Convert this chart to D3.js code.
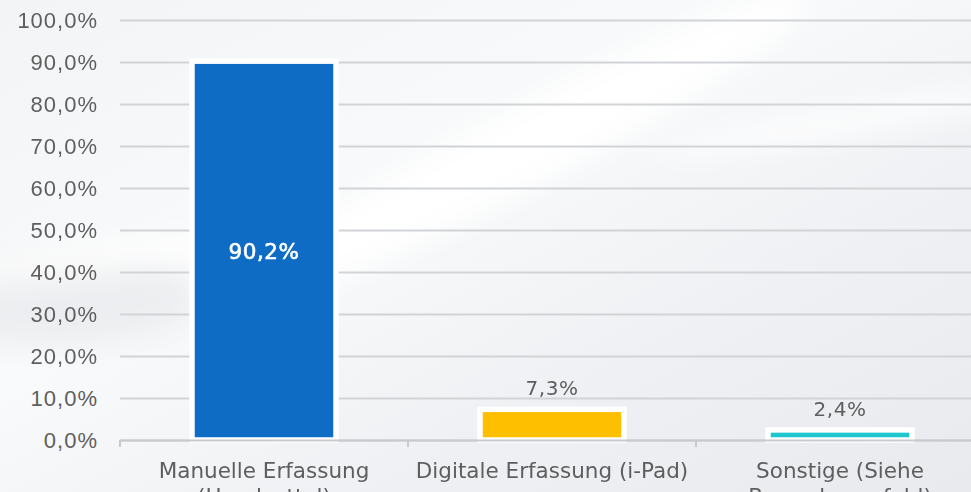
<!DOCTYPE html>
<html>
<head>
<meta charset="utf-8">
<script src="https://cdn.jsdelivr.net/npm/d3@7"></script>
<style>
  html, body { margin: 0; padding: 0; background: #eef0f2; }
  svg { display: block; font-family: "DejaVu Sans", sans-serif; }
</style>
</head>
<body>
<div id="chart"></div>
<script>
// Erfassungsart der Daten
const categories = ["Manuelle Erfassung (Handzettel)", "Digitale Erfassung (i-Pad)", "Sonstige (Siehe Bemerkungsfeld)"];
const labelLines = [["Manuelle Erfassung", "(Handzettel)"], ["Digitale Erfassung (i-Pad)"], ["Sonstige (Siehe", "Bemerkungsfeld)"]];
const values = [90.2, 7.3, 2.4];
const barColors = ["#0e6cc4", "#fdbf00", "#1ec6cd"];
const yTicks = [0, 10, 20, 30, 40, 50, 60, 70, 80, 90, 100];

const W = 971, H = 492;
const plot = {left: 120, right: 984, top: 20, bottom: 440};

const svg = d3.select("#chart").append("svg")
    .attr("width", W).attr("height", H);

// background: soft grey with light streaks
const defs = svg.append("defs");
const bg = defs.append("linearGradient").attr("id", "bg")
    .attr("x1", "0").attr("y1", "0").attr("x2", "1").attr("y2", "1");
bg.append("stop").attr("offset", "0%").attr("stop-color", "#f3f4f5");
bg.append("stop").attr("offset", "40%").attr("stop-color", "#f9fafb");
bg.append("stop").attr("offset", "70%").attr("stop-color", "#eef0f3");
bg.append("stop").attr("offset", "100%").attr("stop-color", "#e8eaee");
defs.append("filter").attr("id", "blur").append("feGaussianBlur").attr("stdDeviation", 14);

svg.append("rect").attr("width", W).attr("height", H).attr("fill", "url(#bg)");
const streaks = svg.append("g").attr("filter", "url(#blur)");
streaks.append("ellipse").attr("cx", 60).attr("cy", 300).attr("rx", 140).attr("ry", 45)
    .attr("fill", "#e7e8eb").attr("opacity", 0.7);
streaks.append("ellipse").attr("cx", 520).attr("cy", 150).attr("rx", 330).attr("ry", 40)
    .attr("transform", "rotate(-28 520 150)").attr("fill", "#ffffff").attr("opacity", 0.9);
streaks.append("ellipse").attr("cx", 160).attr("cy", 250).attr("rx", 220).attr("ry", 14)
    .attr("transform", "rotate(-8 160 250)").attr("fill", "#ffffff").attr("opacity", 0.8);
streaks.append("ellipse").attr("cx", 850).attr("cy", 120).attr("rx", 200).attr("ry", 14)
    .attr("transform", "rotate(-10 850 120)").attr("fill", "#ffffff").attr("opacity", 0.8);

const x = d3.scaleBand().domain(categories)
    .range([plot.left, plot.right]).paddingInner(0.5).paddingOuter(0.25);
const y = d3.scaleLinear().domain([0, 100]).range([plot.bottom, plot.top]);

// gridlines + y labels
const yAxis = svg.append("g")
    .attr("transform", `translate(${plot.left},0)`)
    .call(d3.axisLeft(y).tickValues(yTicks).tickSize(-(plot.right - plot.left))
        .tickFormat(d => d.toFixed(1).replace(".", ",") + "%"));
yAxis.select(".domain").remove();
yAxis.selectAll(".tick line").attr("stroke", "#d2d3d6").attr("stroke-width", 2);
yAxis.selectAll(".tick text").attr("x", -22).attr("dy", "0.36em")
    .attr("fill", "#5e5e5e").style("font-size", "22px").style("letter-spacing", "1px");

// bars with white outline
svg.append("g").selectAll("rect").data(values).join("rect")
    .attr("x", (d, i) => x(categories[i]))
    .attr("y", d => y(d))
    .attr("width", x.bandwidth())
    .attr("height", d => y(0) - y(d))
    .attr("fill", (d, i) => barColors[i])
    .attr("stroke", "#ffffff").attr("stroke-width", 5.5);

// category axis
const xAxis = svg.append("g")
    .attr("transform", `translate(0,${plot.bottom})`)
    .call(d3.axisBottom(x).tickSize(0).tickFormat(""));
xAxis.select(".domain").attr("stroke", "#c9cacd").attr("stroke-width", 2);
xAxis.selectAll(".tick").remove();
const step = x.step();
svg.append("g").selectAll("line").data(d3.range(categories.length))
    .join("line")
    .attr("x1", i => x(categories[i]) - step * 0.25)
    .attr("x2", i => x(categories[i]) - step * 0.25)
    .attr("y1", plot.bottom).attr("y2", plot.bottom + 7)
    .attr("stroke", "#c9cacd").attr("stroke-width", 2);

const catText = svg.append("g").selectAll("text").data(labelLines).join("text")
    .attr("text-anchor", "middle")
    .attr("fill", "#5e5e5e").style("font-size", "21.5px");
catText.each(function(lines, i) {
  const cx = x(categories[i]) + x.bandwidth() / 2;
  d3.select(this).selectAll("tspan").data(lines).join("tspan")
    .attr("x", cx).attr("y", (d, j) => 478 + j * 26)
    .text(d => d);
});

// value labels
const fmt = d => d.toFixed(1).replace(".", ",") + "%";
svg.append("g").selectAll("text").data(values).join("text")
    .attr("text-anchor", "middle")
    .attr("x", (d, i) => x(categories[i]) + x.bandwidth() / 2)
    .attr("y", d => d > 50 ? (y(d) + y(0)) / 2 + 8 : y(d) - 14)
    .attr("fill", d => d > 50 ? "#ffffff" : "#5e5e5e")
    .attr("stroke", d => d > 50 ? "#ffffff" : "none").attr("stroke-width", 0.6)
    .style("font-size", d => d > 50 ? "21.5px" : "20px")
    .style("letter-spacing", "0.5px")
    .text(fmt);
</script>
</body>
</html>
